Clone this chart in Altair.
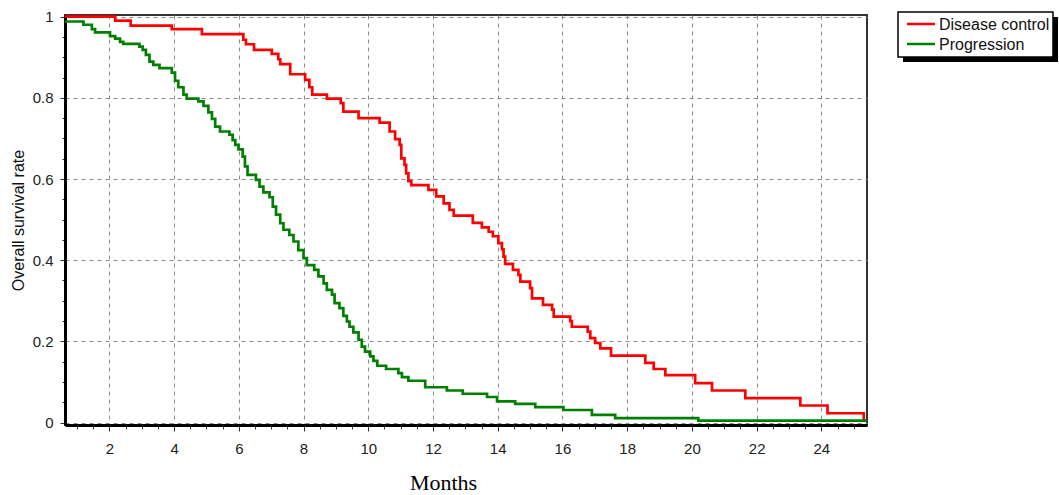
import altair as alt
import pandas as pd

# ---- data ----
series_names = ["Disease control", "Progression"]
series_colors = ["#ff0000", "#008000"]

dc_months = [0.63, 2.18, 2.66, 3.93, 4.86, 6.14, 6.22, 6.47, 7.02, 7.22, 7.28, 7.59,
             8.05, 8.18, 8.27, 8.72, 9.15, 9.23, 9.70, 10.35, 10.66, 10.83, 10.97,
             11.02, 11.12, 11.17, 11.24, 11.33, 11.86, 12.10, 12.33, 12.51, 12.64,
             13.23, 13.51, 13.72, 13.85, 14.02, 14.13, 14.18, 14.23, 14.47, 14.64,
             14.70, 15.00, 15.06, 15.40, 15.68, 15.73, 16.24, 16.29, 16.78, 16.86,
             17.01, 17.17, 17.50, 18.56, 18.82, 19.18, 20.10, 20.62, 21.65, 23.35,
             24.19, 25.31, 25.41]
dc_surv = [1.000, 0.990, 0.978, 0.969, 0.957, 0.943, 0.932, 0.918, 0.908, 0.895, 0.883, 0.858,
           0.844, 0.826, 0.808, 0.798, 0.787, 0.766, 0.750, 0.739, 0.717, 0.698, 0.684,
           0.651, 0.635, 0.614, 0.595, 0.585, 0.573, 0.557, 0.540, 0.524, 0.510,
           0.492, 0.481, 0.470, 0.459, 0.442, 0.427, 0.409, 0.391, 0.376, 0.364,
           0.347, 0.331, 0.306, 0.290, 0.278, 0.261, 0.250, 0.236, 0.224, 0.208,
           0.196, 0.183, 0.165, 0.147, 0.132, 0.117, 0.097, 0.079, 0.060, 0.042,
           0.023, 0.005, 0.005]

pr_months = [0.63, 1.20, 1.46, 1.56, 2.02, 2.18, 2.33, 2.43, 2.93, 3.03, 3.13, 3.24, 3.36,
             3.55, 3.93, 4.03, 4.13, 4.29, 4.39, 4.75, 4.91, 5.06, 5.17, 5.27, 5.42,
             5.71, 5.81, 5.89, 5.99, 6.12, 6.19, 6.27, 6.53, 6.64, 6.76, 6.95, 7.05,
             7.15, 7.28, 7.38, 7.56, 7.69, 7.84, 8.00, 8.10, 8.33, 8.46, 8.62, 8.72,
             8.88, 8.96, 9.11, 9.23, 9.34, 9.42, 9.54, 9.70, 9.80, 9.90, 10.06, 10.16,
             10.28, 10.55, 10.93, 11.04, 11.24, 11.76, 12.43, 12.92, 13.67, 13.98,
             14.54, 15.16, 16.03, 16.91, 17.63, 20.20, 25.41]
pr_surv = [0.988, 0.980, 0.969, 0.961, 0.952, 0.946, 0.938, 0.933, 0.926, 0.918, 0.906, 0.889, 0.881,
           0.873, 0.862, 0.842, 0.826, 0.808, 0.798, 0.791, 0.780, 0.764, 0.748, 0.729, 0.717,
           0.709, 0.696, 0.684, 0.673, 0.655, 0.631, 0.610, 0.598, 0.581, 0.567, 0.555, 0.532,
           0.512, 0.491, 0.475, 0.462, 0.446, 0.425, 0.405, 0.388, 0.376, 0.360, 0.343, 0.327,
           0.315, 0.294, 0.282, 0.263, 0.249, 0.236, 0.222, 0.204, 0.187, 0.175, 0.163, 0.152,
           0.140, 0.132, 0.122, 0.112, 0.103, 0.087, 0.079, 0.071, 0.063, 0.052,
           0.046, 0.038, 0.031, 0.019, 0.011, 0.005, 0.005]

x_domain = [0.63, 25.41]
y_domain = [-0.006, 1.004]
x_tick_values = [round(1.0 + 0.5 * i, 2) for i in range(49)]   # 1.0 ... 25.0
y_tick_values = [round(0.05 * i, 2) for i in range(21)]        # 0 ... 1

df = pd.concat([
    pd.DataFrame({"month": dc_months, "surv": dc_surv, "group": series_names[0]}),
    pd.DataFrame({"month": pr_months, "surv": pr_surv, "group": series_names[1]}),
], ignore_index=True)

major_x = "datum.value % 2 === 0"
major_y = "abs(datum.value * 5 - round(datum.value * 5)) < 1e-6"

x_axis = alt.Axis(
    values=x_tick_values,
    labelExpr=f"({major_x}) ? '' + datum.value : ''",
    title="Months",
    titleFont="Liberation Serif", titleFontSize=22, titleFontWeight="normal",
    titleColor="#000", titleX=378, titleY=64, titleBaseline="alphabetic",
    grid=True,
    gridOpacity={"condition": {"test": major_x, "value": 1}, "value": 0},
    tickSize={"condition": {"test": major_x, "value": 6}, "value": 4},
    labelPadding=10, labelFlush=False,
)
y_axis = alt.Axis(
    values=y_tick_values,
    labelExpr=f"({major_y}) ? '' + round(datum.value * 5) / 5 : ''",
    title="Overall survival rate",
    titleFont="Liberation Sans", titleFontSize=16, titleFontWeight="normal",
    titleColor="#111", titleX=-47, titleY=205, titleBaseline="middle", titleAngle=270,
    grid=True,
    gridOpacity={"condition": {"test": major_y, "value": 1}, "value": 0},
    tickSize={"condition": {"test": major_y, "value": 5}, "value": 3},
    labelPadding=7, labelFlush=False,
)

lines = alt.Chart(df).mark_line(interpolate="step-after", strokeWidth=2.7, clip=True).encode(
    x=alt.X("month:Q", scale=alt.Scale(domain=x_domain, nice=False, zero=False), axis=x_axis),
    y=alt.Y("surv:Q", scale=alt.Scale(domain=y_domain, nice=False, zero=False), axis=y_axis),
    color=alt.Color("group:N", scale=alt.Scale(domain=series_names, range=series_colors),
                    legend=None),
)

# legend box with drop shadow (decoration, pixel positions relative to the plot origin)
one = pd.DataFrame({"k": [0]})
shadow = alt.Chart(one).mark_rect(color="#000").encode(
    x=alt.value(838), x2=alt.value(993), y=alt.value(2), y2=alt.value(47)
)
frame = alt.Chart(one).mark_rect(fill="#ffffff", stroke="#000", strokeWidth=1.5).encode(
    x=alt.value(833), x2=alt.value(988), y=alt.value(-3), y2=alt.value(42)
)
legend_layers = []
for i, (name, col) in enumerate(zip(series_names, series_colors)):
    row_y = 9 + 20 * i
    legend_layers.append(
        alt.Chart(one).mark_rule(strokeWidth=2.5, color=col).encode(
            x=alt.value(842), x2=alt.value(870), y=alt.value(row_y)
        )
    )
    legend_layers.append(
        alt.Chart(one).mark_text(align="left", baseline="middle", font="Liberation Sans",
                                 fontSize=16, color="#111").encode(
            x=alt.value(874), y=alt.value(row_y + 1), text=alt.value(name)
        )
    )

chart = alt.layer(lines, shadow, frame, *legend_layers).properties(
    width=802, height=410,
    autosize=alt.AutoSizeParams(type="none"),
    padding={"left": 65, "top": 15, "right": 192, "bottom": 70},
    background="#ffffff",
).configure_view(
    stroke="#333333", strokeWidth=2,
).configure_axis(
    domainColor="#000", domainWidth=3,
    tickColor="#333", tickWidth=1,
    gridColor="#8a8a8a", gridDash=[4, 4], gridWidth=1,
    labelFont="Liberation Sans", labelFontSize=15, labelColor="#222",
)

chart.save("out.html", embed_options={"renderer": "svg", "actions": False})
